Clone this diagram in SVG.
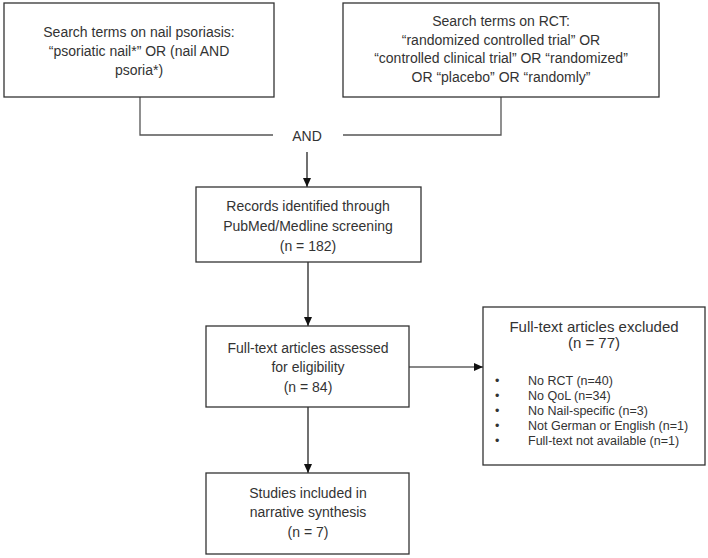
<svg xmlns="http://www.w3.org/2000/svg" width="708" height="558" viewBox="0 0 708 558">
<defs>
<marker id="arr" markerWidth="10" markerHeight="10" refX="9" refY="5" orient="auto" markerUnits="userSpaceOnUse">
<path d="M0,1 L9,5 L0,9 Z" fill="#111"/>
</marker>
<style>
.box{fill:#fff;stroke:#333;stroke-width:1.3}
.t{font-family:"Liberation Sans",Arial,sans-serif;font-size:14px;fill:#333;text-anchor:middle}
.s{font-family:"Liberation Sans",Arial,sans-serif;font-size:12.5px;fill:#333}
.ln{fill:none;stroke:#555;stroke-width:1.3}
.ar{fill:none;stroke:#111;stroke-width:1.2;marker-end:url(#arr)}
</style>
</defs>
<rect width="708" height="558" fill="#fff"/>
<g id="connectors">
<path class="ln" d="M140,97 V135 H273"/>
<path class="ln" d="M343,135 H501 V97"/>
<path class="ar" d="M307,152 V187"/>
<path class="ar" d="M308,262 V326"/>
<path class="ar" d="M409,367 H483"/>
<path class="ar" d="M308,407 V473"/>
</g>
<g id="and"><text class="t" x="307" y="141">AND</text></g>
<g id="search-nail">
<rect class="box" x="4" y="3" width="270" height="94"/>
<text class="t" x="139" y="37">Search terms on nail psoriasis:</text>
<text class="t" x="139" y="56">“psoriatic nail*” OR (nail AND</text>
<text class="t" x="139" y="75">psoria*)</text>
</g>
<g id="search-rct">
<rect class="box" x="343" y="3" width="316" height="94"/>
<text class="t" x="501" y="26">Search terms on RCT:</text>
<text class="t" x="501" y="45">“randomized controlled trial” OR</text>
<text class="t" x="501" y="63">“controlled clinical trial” OR “randomized”</text>
<text class="t" x="501" y="82">OR “placebo” OR “randomly”</text>
</g>
<g id="records">
<rect class="box" x="196" y="187" width="225" height="75"/>
<text class="t" x="308" y="211">Records identified through</text>
<text class="t" x="308" y="231">PubMed/Medline screening</text>
<text class="t" x="308" y="251">(n = 182)</text>
</g>
<g id="fulltext">
<rect class="box" x="206" y="326" width="203" height="81"/>
<text class="t" x="308" y="353">Full-text articles assessed</text>
<text class="t" x="308" y="372">for eligibility</text>
<text class="t" x="308" y="392">(n = 84)</text>
</g>
<g id="excluded">
<rect class="box" x="483" y="307" width="222" height="158"/>
<text class="t" x="594" y="332" style="font-size:15px">Full-text articles excluded</text>
<text class="t" x="594" y="348" style="font-size:15px">(n = 77)</text>
<text class="s" x="495" y="385">•</text><text class="s" x="528" y="385">No RCT (n=40)</text>
<text class="s" x="495" y="400">•</text><text class="s" x="528" y="400">No QoL (n=34)</text>
<text class="s" x="495" y="415">•</text><text class="s" x="528" y="415">No Nail-specific (n=3)</text>
<text class="s" x="495" y="430">•</text><text class="s" x="528" y="430">Not German or English (n=1)</text>
<text class="s" x="495" y="445">•</text><text class="s" x="528" y="445">Full-text not available (n=1)</text>
</g>
<g id="included">
<rect class="box" x="206" y="473" width="203" height="81"/>
<text class="t" x="308" y="498">Studies included in</text>
<text class="t" x="308" y="517">narrative synthesis</text>
<text class="t" x="308" y="537">(n = 7)</text>
</g>
</svg>
